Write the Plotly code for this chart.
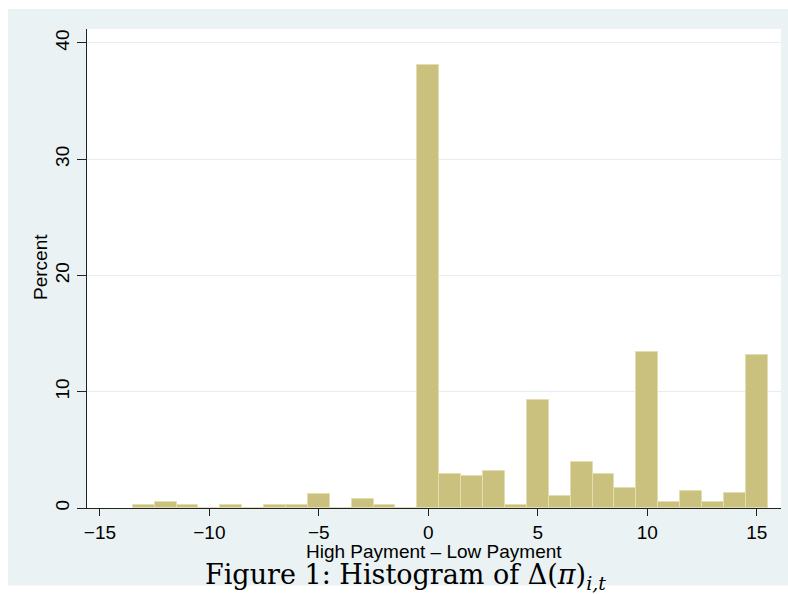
import plotly.graph_objects as go

# Data: histogram bins (centers) and percent per bin
bin_centers = [-13, -12, -11, -10, -9, -8, -7, -6, -5, -4, -3, -2, -1,
               0, 1, 2, 3, 4, 5, 6, 7, 8, 9, 10, 11, 12, 13, 14, 15]
percent = [0.27, 0.53, 0.27, 0.0, 0.27, 0.0, 0.27, 0.27, 1.22, 0.0, 0.79, 0.27, 0.0,
           38.1, 2.94, 2.71, 3.2, 0.3, 9.31, 1.02, 3.94, 2.94, 1.74, 13.44, 0.5, 1.48, 0.5, 1.25, 13.2]
x_ticks = [-15, -10, -5, 0, 5, 10, 15]
x_tick_text = ["\u221215", "\u221210", "\u22125", "0", "5", "10", "15"]
y_ticks = [0, 10, 20, 30, 40]

BG = "#EAF2F3"
GRID = "#E4EDEF"
FILL = "#CAC17F"
EDGE = "#E3DDB0"

fig = go.Figure()
fig.add_trace(go.Bar(
    x=bin_centers, y=percent, width=1.0,
    marker=dict(color=FILL, line=dict(color=EDGE, width=1)),
    hoverinfo="x+y",
))

# full-window figure (body margin removed below)
W, H = 788, 594
L, R, T, B = 87, 7, 29, 86
pw, ph = W - L - R, H - T - B

def px(xp):  # page pixel -> paper
    return (xp - L) / pw

def py(yp):
    return (H - B - yp) / ph

white = dict(type="rect", xref="paper", yref="paper", layer="below",
             line=dict(width=0), fillcolor="white")

fig.update_layout(
    width=W, height=H,
    margin=dict(l=L, r=R, t=T, b=B, autoexpand=False),
    paper_bgcolor=BG, plot_bgcolor="white",
    showlegend=False, bargap=0,
    font=dict(family="Liberation Sans, Arial, sans-serif", color="black", size=19),
    xaxis=dict(
        range=[-15.59, 16.11], tickmode="array", tickvals=x_ticks, ticktext=x_tick_text,
        ticks="outside", ticklen=7, tickwidth=1, tickcolor="#222",
        showline=True, linecolor="#222", linewidth=1,
        showgrid=False, zeroline=False, automargin=False,
        tickfont=dict(size=19),
    ),
    yaxis=dict(
        range=[0, 41.2], tickmode="array", tickvals=y_ticks,
        ticks="outside", ticklen=9, tickwidth=1, tickcolor="#222", tickangle=-90,
        showline=True, linecolor="#222", linewidth=1,
        showgrid=True, gridcolor=GRID, gridwidth=1, zeroline=False, automargin=False,
        tickfont=dict(size=19),
    ),
    shapes=[
        dict(white, x0=px(-20), x1=px(8), y0=py(640), y1=py(-20)),
        dict(white, x0=px(-20), x1=px(820), y0=py(9), y1=py(-20)),
        dict(white, x0=px(-20), x1=px(820), y0=py(640), y1=py(585.5)),
    ],
    annotations=[
        dict(text="Percent", xref="paper", yref="paper", x=px(40.5), y=py(267.5),
             textangle=-90, showarrow=False, xanchor="center", yanchor="middle",
             font=dict(size=19)),
        dict(text="High Payment \u2013 Low Payment", xref="paper", yref="paper",
             x=px(433.5), y=py(551), showarrow=False, xanchor="center", yanchor="middle",
             font=dict(size=19)),
        dict(text="Figure 1: Histogram of \u0394(<i>\u03c0</i>)<sub><i>i,t</i></sub>",
             xref="paper", yref="paper", x=px(405), y=py(576), showarrow=False,
             xanchor="center", yanchor="middle",
             font=dict(family="DejaVu Serif, serif", size=27)),
    ],
)

fig.write_html(
    "out.html",
    config={"displayModeBar": False},
    post_script="document.documentElement.style.overflow='hidden';"
                "document.body.style.overflow='hidden';"
                "document.body.style.margin='0';",
)
